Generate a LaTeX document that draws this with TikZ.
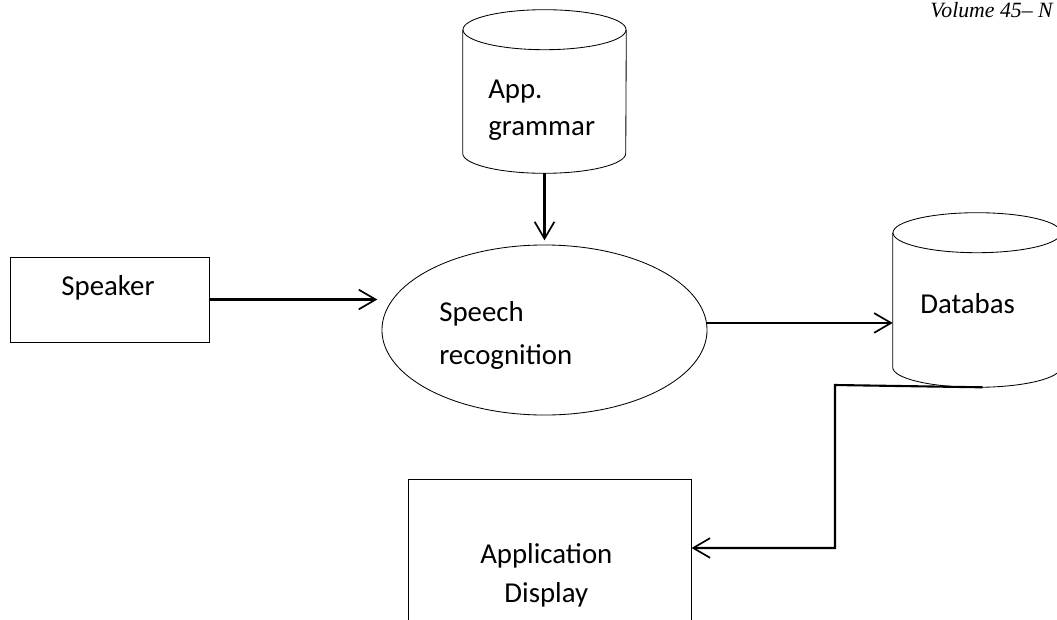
\documentclass[tikz,border=0pt]{standalone}
\usepackage{fontspec}
\setmainfont{Carlito}
\newfontfamily\headfont{Liberation Serif}
\usetikzlibrary{positioning,arrows.meta,shapes.geometric}

\begin{document}
\begin{tikzpicture}[x=0.025cm,y=-0.025cm,
  box/.style={draw,line width=0.7pt,inner sep=0pt},
  store/.style={inner sep=0pt},
  drum/.style={line width=0.6pt},
  proc/.style={draw,line width=0.6pt,ellipse,inner sep=0pt,
    minimum width=8.125cm,minimum height=4.25cm},
  txt/.style={font=\fontsize{20.5}{28}\selectfont,inner sep=0pt,
    align=left,anchor=north west},
  flow/.style={line width=1.5pt,
    -{Straight Barb[length=12pt,width=14pt,line width=1.2pt]}}]
\useasboundingbox (0,0) rectangle (1057,619);
\clip (0,0) rectangle (1057,619);

% --- running header ---
\node[font=\headfont\itshape\fontsize{15.5}{18}\selectfont,anchor=base east,
  inner sep=0pt] (head) at (1053,17) {Volume 45– N};

% --- blocks ---
\node[box,minimum width=4.95cm,minimum height=2.125cm] (spk) at (110,299.5) {};
\node[proc] (rec) at (544.5,330) {};
\node[store,minimum width=4.075cm,minimum height=4.075cm] (gram) at (544.5,91.5) {};
\node[store,minimum width=4.2cm,minimum height=4.35cm] (db) at (977,300) {};
\node[box,minimum width=7.05cm,minimum height=3.75cm] (app) at (550,555) {};

% --- the two stores drawn as drums ---
\foreach \n/\r in {gram/2.0375cm,db/2.1cm}{
  \draw[drum] ([yshift=-0.5cm]\n.north west) -- ([yshift=0.5cm]\n.south west)
    arc[start angle=180,end angle=360,x radius=\r,y radius=0.5cm]
    -- ([yshift=-0.5cm]\n.north east);
  \draw[drum] ([yshift=-0.5cm]\n.north) ellipse [x radius=\r,y radius=0.5cm];
}

% --- labels ---
\node[txt,anchor=base] (spkt) at (108,295) {Speaker};
\node[txt] (rect) at (439,301) {Speech\\[3pt]recognition};
\node[txt] (gramt) at (488,80) {App.\\[-2pt]grammar};
\node[txt] (dbt) at (920,293) {Databas};
\node[txt,align=center] (appt) at (480,543) {Application\\Display};

% --- connectors ---
\coordinate (bend) at (835,385);
\draw[flow] (spk.east) -- ([xshift=-3pt]spk.east -| rec.west);
\draw[flow,shorten >=3pt] (gram) -- (rec);
\draw[flow] ([yshift=5pt]rec.east) -- ([yshift=5pt]rec.east -| db.west);
\draw[flow] ([xshift=4pt]db.south) -- (bend) |- ([yshift=5pt]app.east);
\end{tikzpicture}
\end{document}
